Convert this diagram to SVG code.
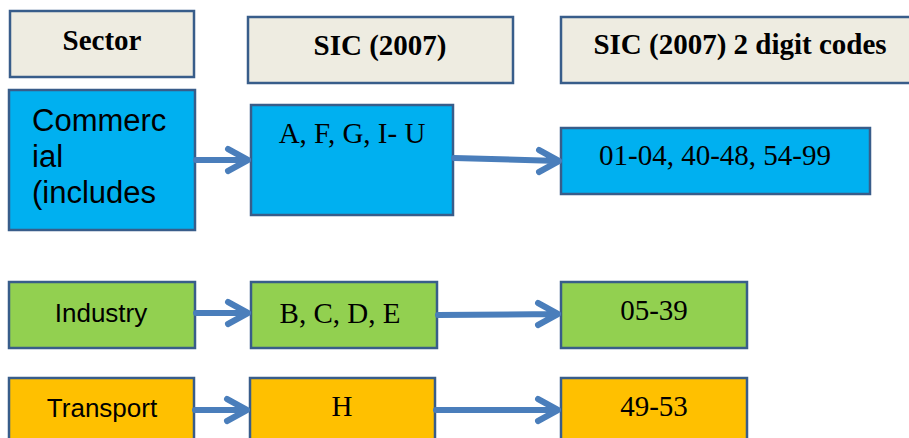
<svg xmlns="http://www.w3.org/2000/svg" width="909" height="438" viewBox="0 0 909 438">
<defs>
<style>
.box{stroke:#385D8A;stroke-width:2.5}
.hdr{fill:#EEECE1}
.blue{fill:#00B0F0}
.green{fill:#92D050}
.orange{fill:#FFC000}
.hb{font-family:"Liberation Serif",serif;font-weight:bold;font-size:29px;fill:#000;text-anchor:middle}
.sr{font-family:"Liberation Serif",serif;font-size:29px;fill:#000;text-anchor:middle}
.ss{font-family:"Liberation Sans",Arial,sans-serif;fill:#000}
.conn{stroke:#4A7EBB;stroke-width:6;fill:none;stroke-linecap:round;stroke-linejoin:round}
</style>
</defs>
<rect width="909" height="438" fill="#fff"/>
<g id="hdr-sector"><rect class="box hdr" x="10" y="11" width="184" height="66"/><text class="hb" x="102" y="50">Sector</text></g>
<g id="hdr-sic"><rect class="box hdr" x="248" y="17" width="265" height="66"/><text class="hb" x="380" y="55">SIC (2007)</text></g>
<g id="hdr-codes"><rect class="box hdr" x="561" y="17" width="360" height="66"/><text class="hb" x="740" y="54">SIC (2007) 2 digit codes</text></g>
<g id="commercial"><rect class="box blue" x="9" y="90" width="186" height="140"/><text class="ss" font-size="31" x="32" y="131">Commerc</text><text class="ss" font-size="31" x="32" y="167">ial</text><text class="ss" font-size="31" x="32" y="203">(includes</text></g>
<g id="sic-commercial"><rect class="box blue" x="251" y="105" width="202" height="110"/><text class="sr" x="352" y="143">A, F, G, I- U</text></g>
<g id="codes-commercial"><rect class="box blue" x="561" y="128" width="309" height="66"/><text class="sr" x="715" y="165">01-04, 40-48, 54-99</text></g>
<g id="industry"><rect class="box green" x="9" y="282" width="186" height="66"/><text class="ss" font-size="26" text-anchor="middle" x="101" y="322">Industry</text></g>
<g id="sic-industry"><rect class="box green" x="251" y="282" width="186" height="66"/><text class="sr" x="340" y="323">B, C, D, E</text></g>
<g id="codes-industry"><rect class="box green" x="561" y="282" width="186" height="66"/><text class="sr" x="654" y="320">05-39</text></g>
<g id="transport"><rect class="box orange" x="9" y="378" width="185" height="70"/><text class="ss" font-size="26" text-anchor="middle" x="102" y="417">Transport</text></g>
<g id="sic-transport"><rect class="box orange" x="250" y="378" width="185" height="70"/><text class="sr" x="342" y="416">H</text></g>
<g id="codes-transport"><rect class="box orange" x="561" y="378" width="186" height="70"/><text class="sr" x="654" y="416">49-53</text></g>
<g id="connectors">
<path class="conn" d="M196 160 L248 160 M228 149 L248 160 L228 171"/>
<path class="conn" d="M454 158 L559 161 M539 150 L559 161 L539 172"/>
<path class="conn" d="M196 313 L248 313 M228 302 L248 313 L228 324"/>
<path class="conn" d="M438 315 L558 314 M538 303 L558 314 L538 325"/>
<path class="conn" d="M195 410 L247 410 M227 399 L247 410 L227 421"/>
<path class="conn" d="M436 410 L558 410 M538 399 L558 410 L538 421"/>
</g>
</svg>
